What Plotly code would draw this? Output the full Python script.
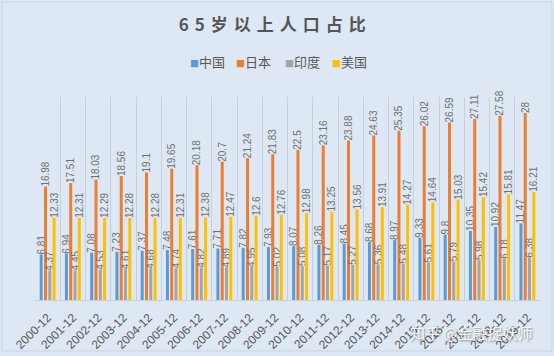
import plotly.graph_objects as go

categories = [f"{y}-12" for y in range(2000, 2020)]
china = [6.81, 6.94, 7.08, 7.23, 7.37, 7.48, 7.61, 7.71, 7.82, 7.93, 8.07, 8.26, 8.45, 8.68, 8.97, 9.33, 9.8, 10.35, 10.92, 11.47]
japan = [16.98, 17.51, 18.03, 18.56, 19.1, 19.65, 20.18, 20.7, 21.24, 21.83, 22.5, 23.16, 23.88, 24.63, 25.35, 26.02, 26.59, 27.11, 27.58, 28]
india = [4.37, 4.45, 4.53, 4.61, 4.68, 4.74, 4.82, 4.89, 4.95, 5.02, 5.08, 5.17, 5.27, 5.36, 5.48, 5.61, 5.79, 5.98, 6.18, 6.38]
usa = [12.33, 12.31, 12.29, 12.28, 12.28, 12.31, 12.38, 12.47, 12.6, 12.76, 12.98, 13.25, 13.56, 13.91, 14.27, 14.64, 15.03, 15.42, 15.81, 16.21]

series = [("中国", china, "#5b9bd5"), ("日本", japan, "#ed7d31"),
          ("印度", india, "#a5a5a5"), ("美国", usa, "#ffc000")]

BG = "#dde8f4"
W, H = 554, 356
ML, MR, MT, MB = 35, 14, 97, 56
PW, PH = W - ML - MR, H - MT - MB

fig = go.Figure()
for name, vals, col in series:
    fig.add_trace(go.Bar(
        x=categories, y=vals, name=name, marker=dict(color=col, line=dict(width=0)),
        text=[f"{v:g}" for v in vals], textposition="outside", textangle=-90,
        constraintext="none", cliponaxis=False, showlegend=False,
        textfont=dict(size=10, color="#707070", family="Liberation Sans, Arial, sans-serif"),
    ))

def px_x(p):
    return (p - ML) / PW

def px_y(p):
    return 1 - (p - MT) / PH

# legend drawn as text items: small coloured square + name
legend_x = [207, 253, 302, 349]
annotations = []
for (name, vals, col), lx in zip(series, legend_x):
    annotations.append(dict(
        text=f'<span style="color:{col};font-size:9px">■</span>{name}',
        xref="paper", yref="paper", x=px_x(lx), y=px_y(62), xanchor="center", yanchor="middle",
        showarrow=False, font=dict(size=13, color="#595959", family="Noto Sans CJK SC, sans-serif")))

annotations.append(dict(text="知乎 @金融捉妖师", xref="paper", yref="paper",
                        x=px_x(471), y=px_y(332), xanchor="center", yanchor="middle", showarrow=False,
                        font=dict(size=15, color="rgba(255,255,255,0.92)", family="Noto Sans CJK SC, sans-serif",
                                  shadow="1px 1px 2px rgba(0,0,0,0.45)")))

fig.update_layout(
    width=W, height=H,
    margin=dict(l=ML, r=MR, t=MT, b=MB, autoexpand=False),
    paper_bgcolor=BG, plot_bgcolor=BG,
    barmode="group", bargap=0.32, bargroupgap=0.3,
    title=dict(text='<span style="letter-spacing:6px">65岁以上人口占比</span>',
               x=0.497, xanchor="center", y=1 - 25 / H, yanchor="middle",
               font=dict(size=17, color="#555555", family="Noto Sans CJK SC, sans-serif", weight="bold")),
    showlegend=False,
    xaxis=dict(type="category", tickson="boundaries", showgrid=True, gridcolor="#c4d0dc",
               gridwidth=1, showline=True, linecolor="#c4d0dc", ticks="", automargin=False,
               tickangle=-45, ticklabelstandoff=5,
               tickfont=dict(size=12, color="#595959", family="Liberation Sans, Arial, sans-serif")),
    yaxis=dict(range=[0, 30.4], visible=False, showgrid=False, automargin=False),
    shapes=[dict(type="rect", xref="paper", yref="paper",
                 x0=px_x(2), x1=px_x(552), y0=px_y(2), y1=px_y(351),
                 line=dict(color="#c9d5e2", width=1), fillcolor="rgba(0,0,0,0)", layer="below")],
    annotations=annotations,
)

fig.write_html("out.html", config={"displayModeBar": False},
               post_script="document.body.style.margin='0';document.body.style.padding='0';")
